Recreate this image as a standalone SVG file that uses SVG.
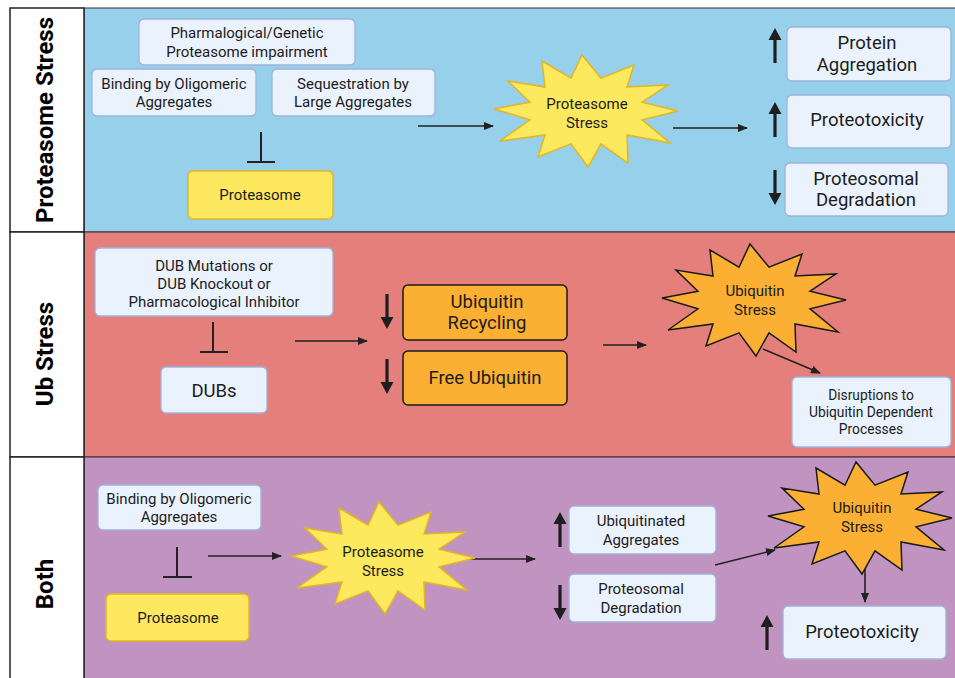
<svg xmlns="http://www.w3.org/2000/svg" xmlns:xlink="http://www.w3.org/1999/xlink" width="955" height="678" viewBox="0 0 955 678">
<style>
text{font-family:Roboto,"Liberation Sans",sans-serif;fill:#1c1c1c;text-anchor:middle;dominant-baseline:central}
.lbl{font-size:24px;font-weight:bold;fill:#000}
.s14{font-size:15px}
.s13{font-size:13.8px}
.s17{font-size:18.5px}
.box{fill:#eaf2fd;stroke:#9fb2da;stroke-width:1.3}
.yel{fill:#fde85f;stroke:#e3b523;stroke-width:1.5}
.org{fill:#fbb033;stroke:#1a1a1a;stroke-width:1.5}
.con{stroke:#222;stroke-width:1.6;fill:none}
.inh{stroke:#222;stroke-width:2;fill:none}
.big{fill:#1e1e1e}
</style>
<defs>
<marker id="ah" markerUnits="userSpaceOnUse" markerWidth="10" markerHeight="8" refX="9" refY="4" orient="auto">
<path d="M0,0 L10,4 L0,8 Z" fill="#222"/>
</marker>
<path id="star" d="M92,0 L56,8.8 L84,32 L41,24 L42,52 L15,32.8 L2,56 L-15,32.8 L-48,46 L-41,24 L-86,30 L-56,8.8 L-92,-2 L-56,-8.8 L-78,-30 L-41,-24 L-44,-50 L-15,-32.8 L-4,-56 L15,-32.8 L48,-46 L41,-24 L82,-26 L56,-8.8 Z"/>
<path id="up" d="M0,0 L6.5,12 L1.6,12 L1.6,35 L-1.6,35 L-1.6,12 L-6.5,12 Z"/>
</defs>
<rect x="0" y="0" width="955" height="678" fill="#ffffff"/>
<!-- panels -->
<rect x="84" y="8" width="875" height="224" fill="#97d0ea" stroke="#333" stroke-width="1"/>
<rect x="84" y="232" width="875" height="225" fill="#e47f7c" stroke="#333" stroke-width="1"/>
<rect x="84" y="457" width="875" height="225" fill="#c193c0" stroke="#333" stroke-width="1"/>
<rect x="10" y="8" width="74" height="224" fill="#fff" stroke="#222" stroke-width="1.5"/>
<rect x="10" y="232" width="74" height="225" fill="#fff" stroke="#222" stroke-width="1.5"/>
<rect x="10" y="457" width="74" height="225" fill="#fff" stroke="#222" stroke-width="1.5"/>
<text class="lbl" transform="translate(45,120) rotate(-90)">Proteasome Stress</text>
<text class="lbl" transform="translate(45,354) rotate(-90)">Ub Stress</text>
<text class="lbl" transform="translate(45,584) rotate(-90)">Both</text>

<g id="connectors">
<line class="con" x1="418" y1="126" x2="493" y2="126" marker-end="url(#ah)"/>
<line class="con" x1="673" y1="128" x2="747" y2="128" marker-end="url(#ah)"/>
<path class="inh" d="M261,132 V162 M247,162 H275"/>
<path class="inh" d="M213,322 V352 M200,352 H228"/>
<line class="con" x1="295" y1="341" x2="367" y2="341" marker-end="url(#ah)"/>
<line class="con" x1="603" y1="345" x2="646" y2="345" marker-end="url(#ah)"/>
<line class="con" x1="763" y1="349" x2="820" y2="373" marker-end="url(#ah)"/>
<path class="inh" d="M177,547 V577 M163,577 H192"/>
<line class="con" x1="208" y1="556" x2="281" y2="556" marker-end="url(#ah)"/>
<line class="con" x1="462" y1="559" x2="535" y2="559" marker-end="url(#ah)"/>
<line class="con" x1="715" y1="565" x2="775" y2="550" marker-end="url(#ah)"/>
<line class="con" x1="865" y1="560" x2="865" y2="602" marker-end="url(#ah)"/>
<use href="#up" class="big" transform="translate(775,28)"/>
<use href="#up" class="big" transform="translate(775,102)"/>
<use href="#up" class="big" transform="translate(775,205) rotate(180)"/>
<use href="#up" class="big" transform="translate(387,329) rotate(180)"/>
<use href="#up" class="big" transform="translate(387,394) rotate(180)"/>
<use href="#up" class="big" transform="translate(560,512)"/>
<use href="#up" class="big" transform="translate(560,620) rotate(180)"/>
<use href="#up" class="big" transform="translate(767,615)"/>
</g>

<!-- Proteasome Stress panel -->
<g id="n-pharma"><rect class="box" x="139" y="19" width="216" height="46" rx="5"/>
<text class="s14" x="247" y="33">Pharmalogical/Genetic</text><text class="s14" x="247" y="52">Proteasome impairment</text></g>
<g id="n-binding1"><rect class="box" x="92" y="69" width="164" height="47" rx="5"/>
<text class="s14" x="174" y="84">Binding by Oligomeric</text><text class="s14" x="174" y="102">Aggregates</text></g>
<g id="n-seq"><rect class="box" x="272" y="69" width="163" height="47" rx="5"/>
<text class="s14" x="353" y="84">Sequestration by</text><text class="s14" x="353" y="102">Large Aggregates</text></g>
<g id="n-proteasome1"><rect class="yel" x="188" y="171" width="145" height="48" rx="5"/>
<text class="s14" x="260" y="195">Proteasome</text></g>
<g id="n-pstress1"><use href="#star" transform="translate(586,111)" fill="#fce95d" stroke="#e3b523" stroke-width="1.5"/>
<text class="s14" x="587" y="104">Proteasome</text><text class="s14" x="587" y="123">Stress</text></g>
<g id="n-protagg"><rect class="box" x="787" y="27" width="164" height="54" rx="5"/>
<text class="s17" x="867" y="43">Protein</text><text class="s17" x="867" y="65">Aggregation</text></g>
<g id="n-ptox1"><rect class="box" x="787" y="95" width="164" height="53" rx="5"/>
<text class="s17" x="867" y="120">Proteotoxicity</text></g>
<g id="n-pdeg1"><rect class="box" x="785" y="163" width="163" height="53" rx="5"/>
<text class="s17" x="866" y="179">Proteosomal</text><text class="s17" x="866" y="200">Degradation</text></g>

<!-- Ub Stress panel -->
<g id="n-dubmut"><rect class="box" x="95" y="248" width="238" height="68" rx="5"/>
<text class="s14" x="214" y="266">DUB Mutations or</text><text class="s14" x="214" y="284">DUB Knockout or</text><text class="s14" x="214" y="302">Pharmacological Inhibitor</text></g>
<g id="n-dubs"><rect class="box" x="161" y="367" width="106" height="46" rx="5"/>
<text class="s17" x="214" y="391">DUBs</text></g>
<g id="n-ubrec"><rect class="org" x="403" y="285" width="164" height="55" rx="5"/>
<text class="s17" x="487" y="302">Ubiquitin</text><text class="s17" x="487" y="323">Recycling</text></g>
<g id="n-freeub"><rect class="org" x="403" y="351" width="164" height="54" rx="5"/>
<text class="s17" x="485" y="378">Free Ubiquitin</text></g>
<g id="n-ustress1"><use href="#star" transform="translate(754,300)" fill="#fbb033" stroke="#1a1a1a" stroke-width="1.5"/>
<text class="s14" x="755" y="291">Ubiquitin</text><text class="s14" x="755" y="310">Stress</text></g>
<g id="n-disrupt"><rect class="box" x="792" y="377" width="159" height="70" rx="5"/>
<text class="s13" x="871" y="395">Disruptions to</text><text class="s13" x="871" y="412">Ubiquitin Dependent</text><text class="s13" x="871" y="429">Processes</text></g>

<!-- Both panel -->
<g id="n-binding2"><rect class="box" x="98" y="485" width="163" height="45" rx="5"/>
<text class="s14" x="179" y="499">Binding by Oligomeric</text><text class="s14" x="179" y="517">Aggregates</text></g>
<g id="n-proteasome2"><rect class="yel" x="106" y="594" width="143" height="47" rx="5"/>
<text class="s14" x="178" y="618">Proteasome</text></g>
<g id="n-pstress2"><use href="#star" transform="translate(383,558)" fill="#fce95d" stroke="#e3b523" stroke-width="1.5"/>
<text class="s14" x="383" y="552">Proteasome</text><text class="s14" x="383" y="571">Stress</text></g>
<g id="n-ubagg"><rect class="box" x="569" y="506" width="147" height="48" rx="5"/>
<text class="s14" x="641" y="521">Ubiquitinated</text><text class="s14" x="641" y="540">Aggregates</text></g>
<g id="n-pdeg2"><rect class="box" x="569" y="574" width="147" height="48" rx="5"/>
<text class="s14" x="641" y="589">Proteosomal</text><text class="s14" x="641" y="608">Degradation</text></g>
<g id="n-ustress2"><use href="#star" transform="translate(860,518)" fill="#fbb033" stroke="#1a1a1a" stroke-width="1.5"/>
<text class="s14" x="862" y="508">Ubiquitin</text><text class="s14" x="862" y="527">Stress</text></g>
<g id="n-ptox2"><rect class="box" x="783" y="606" width="163" height="53" rx="5"/>
<text class="s17" x="862" y="632">Proteotoxicity</text></g>
</svg>
